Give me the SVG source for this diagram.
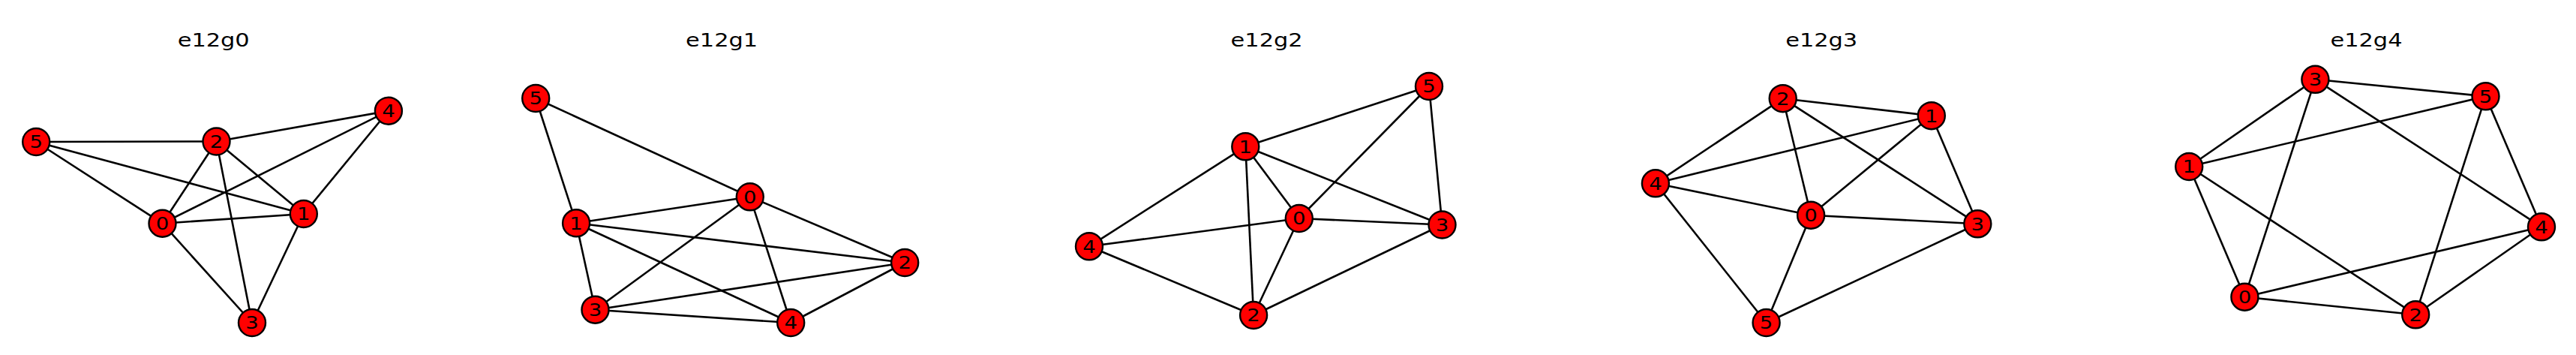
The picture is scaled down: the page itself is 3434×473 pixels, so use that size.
<svg xmlns="http://www.w3.org/2000/svg" width="3434" height="473" viewBox="0 0 3434 473">
<style>
.bg{fill:#ffffff}
.e line{stroke:#000000;stroke-width:2.6;stroke-linecap:butt}
.n circle{fill:#ff0000;stroke:#000000;stroke-width:2.4}
.n text{font-family:"DejaVu Sans",sans-serif;font-size:22.5px;fill:#000000;text-anchor:middle}
.t{font-family:"DejaVu Sans",sans-serif;font-size:24px;fill:#000000;text-anchor:middle}
</style>
<rect class="bg" x="0" y="0" width="3434" height="473"/>
<g id="titles">
<text class="t" x="284.7" y="61.7" textLength="96" lengthAdjust="spacingAndGlyphs">e12g0</text>
<text class="t" x="962.1" y="61.7" textLength="96" lengthAdjust="spacingAndGlyphs">e12g1</text>
<text class="t" x="1688.6" y="61.7" textLength="96" lengthAdjust="spacingAndGlyphs">e12g2</text>
<text class="t" x="2428.2" y="61.7" textLength="96" lengthAdjust="spacingAndGlyphs">e12g3</text>
<text class="t" x="3154.5" y="61.7" textLength="96" lengthAdjust="spacingAndGlyphs">e12g4</text>
</g>
<g id="connectors" class="e">
<!-- g0 -->
<line x1="48.2" y1="189" x2="288.5" y2="188.5"/>
<line x1="48.2" y1="189" x2="404.8" y2="285"/>
<line x1="48.2" y1="189" x2="216.5" y2="297.7"/>
<line x1="288.5" y1="188.5" x2="517.9" y2="147.7"/>
<line x1="288.5" y1="188.5" x2="216.5" y2="297.7"/>
<line x1="288.5" y1="188.5" x2="404.8" y2="285"/>
<line x1="288.5" y1="188.5" x2="336" y2="430"/>
<line x1="517.9" y1="147.7" x2="216.5" y2="297.7"/>
<line x1="517.9" y1="147.7" x2="404.8" y2="285"/>
<line x1="216.5" y1="297.7" x2="404.8" y2="285"/>
<line x1="216.5" y1="297.7" x2="336" y2="430"/>
<line x1="404.8" y1="285" x2="336" y2="430"/>
<!-- g1 -->
<line x1="714.2" y1="131" x2="999.8" y2="262.3"/>
<line x1="714.2" y1="131" x2="768.1" y2="297.3"/>
<line x1="768.1" y1="297.3" x2="999.8" y2="262.3"/>
<line x1="768.1" y1="297.3" x2="1206.2" y2="350"/>
<line x1="768.1" y1="297.3" x2="1054.2" y2="430"/>
<line x1="768.1" y1="297.3" x2="793.5" y2="412.7"/>
<line x1="999.8" y1="262.3" x2="793.5" y2="412.7"/>
<line x1="999.8" y1="262.3" x2="1206.2" y2="350"/>
<line x1="999.8" y1="262.3" x2="1054.2" y2="430"/>
<line x1="1206.2" y1="350" x2="793.5" y2="412.7"/>
<line x1="1206.2" y1="350" x2="1054.2" y2="430"/>
<line x1="793.5" y1="412.7" x2="1054.2" y2="430"/>
<!-- g2 -->
<line x1="1660.3" y1="195.3" x2="1905" y2="115"/>
<line x1="1731.8" y1="291" x2="1905" y2="115"/>
<line x1="1905" y1="115" x2="1922.5" y2="299.5"/>
<line x1="1660.3" y1="195.3" x2="1452" y2="328.3"/>
<line x1="1660.3" y1="195.3" x2="1671.1" y2="420"/>
<line x1="1660.3" y1="195.3" x2="1731.8" y2="291"/>
<line x1="1660.3" y1="195.3" x2="1922.5" y2="299.5"/>
<line x1="1731.8" y1="291" x2="1452" y2="328.3"/>
<line x1="1731.8" y1="291" x2="1922.5" y2="299.5"/>
<line x1="1731.8" y1="291" x2="1671.1" y2="420"/>
<line x1="1452" y1="328.3" x2="1671.1" y2="420"/>
<line x1="1671.1" y1="420" x2="1922.5" y2="299.5"/>
<!-- g3 -->
<line x1="2376.7" y1="131.2" x2="2574.8" y2="154.2"/>
<line x1="2376.7" y1="131.2" x2="2206.9" y2="244.3"/>
<line x1="2376.7" y1="131.2" x2="2414.1" y2="286.7"/>
<line x1="2376.7" y1="131.2" x2="2636.3" y2="298.3"/>
<line x1="2574.8" y1="154.2" x2="2206.9" y2="244.3"/>
<line x1="2574.8" y1="154.2" x2="2414.1" y2="286.7"/>
<line x1="2574.8" y1="154.2" x2="2636.3" y2="298.3"/>
<line x1="2206.9" y1="244.3" x2="2414.1" y2="286.7"/>
<line x1="2206.9" y1="244.3" x2="2354.6" y2="430"/>
<line x1="2414.1" y1="286.7" x2="2636.3" y2="298.3"/>
<line x1="2414.1" y1="286.7" x2="2354.6" y2="430"/>
<line x1="2636.3" y1="298.3" x2="2354.6" y2="430"/>
<!-- g4 -->
<line x1="3086.4" y1="105.8" x2="3313.5" y2="128.3"/>
<line x1="3086.4" y1="105.8" x2="2918.2" y2="222"/>
<line x1="3086.4" y1="105.8" x2="2992.4" y2="395.7"/>
<line x1="3086.4" y1="105.8" x2="3388" y2="302.3"/>
<line x1="3313.5" y1="128.3" x2="2918.2" y2="222"/>
<line x1="3313.5" y1="128.3" x2="3220.2" y2="419.3"/>
<line x1="3313.5" y1="128.3" x2="3388" y2="302.3"/>
<line x1="2918.2" y1="222" x2="2992.4" y2="395.7"/>
<line x1="2918.2" y1="222" x2="3220.2" y2="419.3"/>
<line x1="3388" y1="302.3" x2="2992.4" y2="395.7"/>
<line x1="3388" y1="302.3" x2="3220.2" y2="419.3"/>
<line x1="2992.4" y1="395.7" x2="3220.2" y2="419.3"/>
</g>
<!-- g0 nodes -->
<g id="g0n5" class="n"><circle cx="48.2" cy="189" r="18"/><text x="48.2" y="197.3" textLength="17.5" lengthAdjust="spacingAndGlyphs">5</text></g>
<g id="g0n2" class="n"><circle cx="288.5" cy="188.5" r="18"/><text x="288.5" y="196.8" textLength="17.5" lengthAdjust="spacingAndGlyphs">2</text></g>
<g id="g0n4" class="n"><circle cx="517.9" cy="147.7" r="18"/><text x="517.9" y="156" textLength="17.5" lengthAdjust="spacingAndGlyphs">4</text></g>
<g id="g0n0" class="n"><circle cx="216.5" cy="297.7" r="18"/><text x="216.5" y="306" textLength="17.5" lengthAdjust="spacingAndGlyphs">0</text></g>
<g id="g0n1" class="n"><circle cx="404.8" cy="285" r="18"/><text x="404.8" y="293.3" textLength="17.5" lengthAdjust="spacingAndGlyphs">1</text></g>
<g id="g0n3" class="n"><circle cx="336" cy="430" r="18"/><text x="336" y="438.3" textLength="17.5" lengthAdjust="spacingAndGlyphs">3</text></g>
<!-- g1 nodes -->
<g id="g1n5" class="n"><circle cx="714.2" cy="131" r="18"/><text x="714.2" y="139.3" textLength="17.5" lengthAdjust="spacingAndGlyphs">5</text></g>
<g id="g1n0" class="n"><circle cx="999.8" cy="262.3" r="18"/><text x="999.8" y="270.6" textLength="17.5" lengthAdjust="spacingAndGlyphs">0</text></g>
<g id="g1n1" class="n"><circle cx="768.1" cy="297.3" r="18"/><text x="768.1" y="305.6" textLength="17.5" lengthAdjust="spacingAndGlyphs">1</text></g>
<g id="g1n2" class="n"><circle cx="1206.2" cy="350" r="18"/><text x="1206.2" y="358.3" textLength="17.5" lengthAdjust="spacingAndGlyphs">2</text></g>
<g id="g1n3" class="n"><circle cx="793.5" cy="412.7" r="18"/><text x="793.5" y="421" textLength="17.5" lengthAdjust="spacingAndGlyphs">3</text></g>
<g id="g1n4" class="n"><circle cx="1054.2" cy="430" r="18"/><text x="1054.2" y="438.3" textLength="17.5" lengthAdjust="spacingAndGlyphs">4</text></g>
<!-- g2 nodes -->
<g id="g2n5" class="n"><circle cx="1905" cy="115" r="18"/><text x="1905" y="123.3" textLength="17.5" lengthAdjust="spacingAndGlyphs">5</text></g>
<g id="g2n1" class="n"><circle cx="1660.3" cy="195.3" r="18"/><text x="1660.3" y="203.6" textLength="17.5" lengthAdjust="spacingAndGlyphs">1</text></g>
<g id="g2n0" class="n"><circle cx="1731.8" cy="291" r="18"/><text x="1731.8" y="299.3" textLength="17.5" lengthAdjust="spacingAndGlyphs">0</text></g>
<g id="g2n3" class="n"><circle cx="1922.5" cy="299.5" r="18"/><text x="1922.5" y="307.8" textLength="17.5" lengthAdjust="spacingAndGlyphs">3</text></g>
<g id="g2n4" class="n"><circle cx="1452" cy="328.3" r="18"/><text x="1452" y="336.6" textLength="17.5" lengthAdjust="spacingAndGlyphs">4</text></g>
<g id="g2n2" class="n"><circle cx="1671.1" cy="420" r="18"/><text x="1671.1" y="428.3" textLength="17.5" lengthAdjust="spacingAndGlyphs">2</text></g>
<!-- g3 nodes -->
<g id="g3n2" class="n"><circle cx="2376.7" cy="131.2" r="18"/><text x="2376.7" y="139.5" textLength="17.5" lengthAdjust="spacingAndGlyphs">2</text></g>
<g id="g3n1" class="n"><circle cx="2574.8" cy="154.2" r="18"/><text x="2574.8" y="162.5" textLength="17.5" lengthAdjust="spacingAndGlyphs">1</text></g>
<g id="g3n4" class="n"><circle cx="2206.9" cy="244.3" r="18"/><text x="2206.9" y="252.6" textLength="17.5" lengthAdjust="spacingAndGlyphs">4</text></g>
<g id="g3n0" class="n"><circle cx="2414.1" cy="286.7" r="18"/><text x="2414.1" y="295" textLength="17.5" lengthAdjust="spacingAndGlyphs">0</text></g>
<g id="g3n3" class="n"><circle cx="2636.3" cy="298.3" r="18"/><text x="2636.3" y="306.6" textLength="17.5" lengthAdjust="spacingAndGlyphs">3</text></g>
<g id="g3n5" class="n"><circle cx="2354.6" cy="430" r="18"/><text x="2354.6" y="438.3" textLength="17.5" lengthAdjust="spacingAndGlyphs">5</text></g>
<!-- g4 nodes -->
<g id="g4n3" class="n"><circle cx="3086.4" cy="105.8" r="18"/><text x="3086.4" y="114.1" textLength="17.5" lengthAdjust="spacingAndGlyphs">3</text></g>
<g id="g4n5" class="n"><circle cx="3313.5" cy="128.3" r="18"/><text x="3313.5" y="136.6" textLength="17.5" lengthAdjust="spacingAndGlyphs">5</text></g>
<g id="g4n1" class="n"><circle cx="2918.2" cy="222" r="18"/><text x="2918.2" y="230.3" textLength="17.5" lengthAdjust="spacingAndGlyphs">1</text></g>
<g id="g4n4" class="n"><circle cx="3388" cy="302.3" r="18"/><text x="3388" y="310.6" textLength="17.5" lengthAdjust="spacingAndGlyphs">4</text></g>
<g id="g4n0" class="n"><circle cx="2992.4" cy="395.7" r="18"/><text x="2992.4" y="404" textLength="17.5" lengthAdjust="spacingAndGlyphs">0</text></g>
<g id="g4n2" class="n"><circle cx="3220.2" cy="419.3" r="18"/><text x="3220.2" y="427.6" textLength="17.5" lengthAdjust="spacingAndGlyphs">2</text></g>
</svg>
